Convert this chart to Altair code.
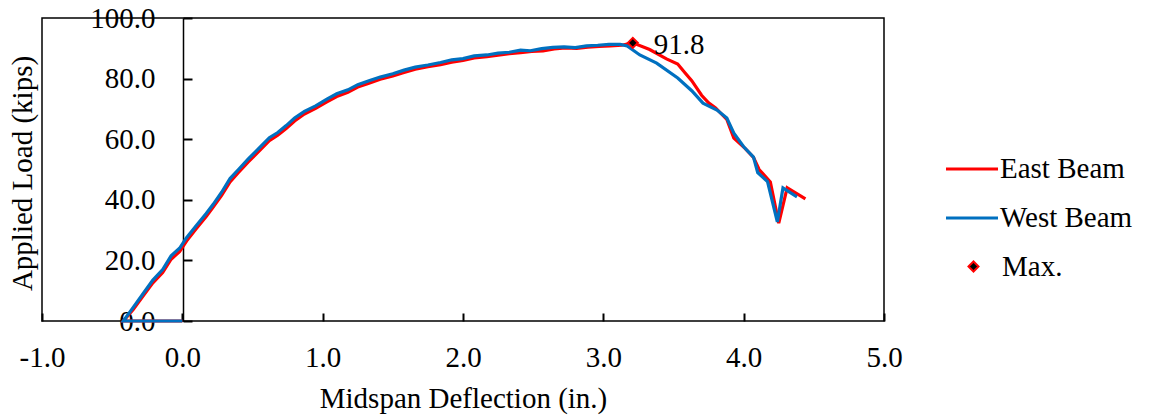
import altair as alt
import pandas as pd

# Load-deflection readings (in., kips)
east_x = [0.00, -0.42, -0.35, -0.28, -0.21, -0.14, -0.08, -0.02, 0.03, 0.10, 0.17, 0.22, 0.28,
          0.34, 0.40, 0.47, 0.55, 0.62, 0.68, 0.74, 0.80, 0.87, 0.95, 1.03, 1.10, 1.18, 1.25,
          1.33, 1.41, 1.50, 1.58, 1.66, 1.75, 1.84, 1.92, 2.00, 2.08, 2.17, 2.25, 2.33, 2.41,
          2.49, 2.57, 2.65, 2.73, 2.81, 2.89, 2.97, 3.05, 3.13, 3.21, 3.33, 3.45, 3.53, 3.58,
          3.63, 3.70, 3.75, 3.80, 3.88, 3.93, 4.01, 4.07, 4.11, 4.19, 4.25, 4.31, 4.44]
east_y = [0.0, 0.0, 3.8, 8.2, 12.6, 16.0, 20.4, 22.9, 26.4, 30.5, 34.5, 37.6, 41.5,
          45.9, 49.0, 52.5, 56.2, 59.5, 61.3, 63.5, 66.0, 68.3, 70.2, 72.3, 74.1, 75.5, 77.2,
          78.5, 79.8, 80.9, 82.0, 83.1, 83.9, 84.6, 85.4, 86.0, 86.8, 87.2, 87.7, 88.2, 88.6,
          89.0, 89.1, 89.8, 90.1, 90.0, 90.4, 90.6, 90.8, 91.0, 91.8, 89.6, 86.5, 84.8, 82.0,
          79.3, 74.5, 72.0, 70.3, 66.5, 60.4, 57.0, 54.0, 50.0, 45.9, 32.3, 44.0, 40.3]

west_x = [0.00, -0.42, -0.35, -0.28, -0.21, -0.14, -0.08, -0.02, 0.03, 0.10, 0.17, 0.22, 0.28,
          0.34, 0.40, 0.47, 0.55, 0.62, 0.68, 0.74, 0.80, 0.87, 0.95, 1.03, 1.10, 1.18, 1.25,
          1.33, 1.41, 1.50, 1.58, 1.66, 1.75, 1.84, 1.92, 2.00, 2.08, 2.17, 2.25, 2.33, 2.41,
          2.48, 2.56, 2.64, 2.72, 2.80, 2.88, 2.96, 3.04, 3.12, 3.17, 3.26, 3.38, 3.53, 3.63,
          3.71, 3.81, 3.88, 3.93, 4.00, 4.07, 4.10, 4.17, 4.24, 4.28, 4.38]
west_y = [0.0, 0.0, 4.5, 9.0, 13.5, 17.0, 21.5, 24.0, 27.5, 31.5, 35.5, 38.5, 42.5,
          47.0, 50.0, 53.5, 57.2, 60.5, 62.2, 64.5, 67.0, 69.2, 71.0, 73.2, 75.0, 76.3, 78.0,
          79.3, 80.5, 81.6, 82.8, 83.8, 84.5, 85.3, 86.2, 86.6, 87.5, 87.8, 88.4, 88.7, 89.4,
          89.2, 89.9, 90.3, 90.5, 90.2, 90.8, 91.0, 91.3, 91.3, 90.8, 87.8, 85.1, 80.2, 76.0,
          71.9, 69.6, 67.0, 62.0, 57.5, 54.1, 49.0, 46.0, 32.7, 43.9, 41.0]

# Peak load of the east beam
max_x = [3.21]
max_y = [91.8]

x_ticks = [-1, 0, 1, 2, 3, 4, 5]
y_ticks = [0, 20, 40, 60, 80, 100]

FONT = "Liberation Serif"
FS = 29
RED = "#FF0000"
BLUE = "#0070C0"

east = pd.DataFrame({"d": east_x, "p": east_y, "beam": "East Beam", "i": range(len(east_x))})
west = pd.DataFrame({"d": west_x, "p": west_y, "beam": "West Beam", "i": range(len(west_x))})
peak = pd.DataFrame({"d": max_x, "p": max_y, "kind": "Max."})

x_scale = alt.Scale(domain=[-1, 5], nice=False, zero=False)
y_scale = alt.Scale(domain=[0, 100], nice=False, zero=False)
color_scale = alt.Scale(domain=["East Beam", "West Beam"], range=[RED, BLUE])

# plain hyphen for negative tick labels
label_expr = "replace(format(datum.value, '.1f'), '\u2212', '-')"

# Deflection axis: a top axis moved down onto the bottom edge, so its ticks point up
# into the plot while the labels are pulled back below the frame.
x_axis = alt.Axis(
    orient="top", offset=-303,
    title="Midspan Deflection (in.)", values=x_ticks, labelExpr=label_expr,
    domain=False, ticks=True, tickSize=8, tickWidth=2, tickColor="black", tickOpacity=1,
    grid=False,
    labelPadding=-30, labelBaseline="top", labelFlush=False, labelOverlap=False,
    titleX=421, titleY=63, titleAlign="center", titleBaseline="top", titleAngle=0,
)
# Load axis: a right axis moved onto x = 0, ticks pointing right, labels on its left
y_axis = alt.Axis(
    orient="right", offset=-701,
    title="Applied Load (kips)", values=y_ticks, format=".1f",
    domain=True, domainColor="black", domainWidth=1.5,
    ticks=True, tickSize=9, tickWidth=2, tickColor="black", tickOpacity=1, grid=False,
    labelPadding=-37, labelAlign="right", labelFlush=False, labelOverlap=False,
    titleX=-161, titleY=155, titleAngle=270, titleAlign="center", titleBaseline="middle",
)

legend_lines = alt.Legend(
    title=None, orient="none", legendX=902, legendY=123,
    symbolType="stroke", symbolSize=2704, symbolStrokeWidth=3.2,
    labelFont=FONT, labelFontSize=FS, labelColor="black", labelOffset=0,
    rowPadding=6, padding=0,
)
legend_max = alt.Legend(
    title=None, orient="none", legendX=917, legendY=234,
    symbolType="diamond", symbolSize=100, symbolStrokeWidth=2,
    labelFont=FONT, labelFontSize=FS, labelColor="black", labelOffset=14,
    padding=0,
)

east_line = alt.Chart(east).mark_line(strokeWidth=3.2).encode(
    x=alt.X("d:Q", scale=x_scale, axis=x_axis),
    y=alt.Y("p:Q", scale=y_scale, axis=y_axis),
    order="i:Q",
    color=alt.Color("beam:N", scale=color_scale, legend=legend_lines),
)
west_line = alt.Chart(west).mark_line(strokeWidth=3.2).encode(
    x=alt.X("d:Q", scale=x_scale, axis=x_axis),
    y=alt.Y("p:Q", scale=y_scale, axis=y_axis),
    order="i:Q",
    color=alt.Color("beam:N", scale=color_scale, legend=legend_lines),
)
peak_point = alt.Chart(peak).mark_point(
    filled=True, strokeWidth=2, size=100, opacity=1
).encode(
    x=alt.X("d:Q", scale=x_scale, axis=x_axis),
    y=alt.Y("p:Q", scale=y_scale, axis=y_axis),
    shape=alt.Shape("kind:N", scale=alt.Scale(domain=["Max."], range=["diamond"]),
                    legend=legend_max),
    fill=alt.Fill("kind:N", scale=alt.Scale(domain=["Max."], range=["black"]),
                  legend=legend_max),
    stroke=alt.Stroke("kind:N", scale=alt.Scale(domain=["Max."], range=[RED]),
                      legend=legend_max),
)
peak_label = alt.Chart(peak).mark_text(
    align="left", baseline="middle", dx=21, dy=2, font=FONT, fontSize=FS, color="black"
).encode(
    x=alt.X("d:Q", scale=x_scale, axis=x_axis),
    y=alt.Y("p:Q", scale=y_scale, axis=y_axis),
    text=alt.Text("p:Q", format=".1f"),
)

chart = alt.layer(
    east_line, west_line, peak_point, peak_label
).properties(
    width=842, height=303,
    autosize=alt.AutoSizeParams(type="none"),
    padding={"left": 42, "top": 18, "right": 270, "bottom": 98},
    background="white",
).configure_view(
    stroke="black", strokeWidth=1.5,
).configure_axis(
    labelFont=FONT, labelFontSize=FS, labelColor="black",
    titleFont=FONT, titleFontSize=FS, titleColor="black", titleFontWeight="normal",
).configure_legend(
    labelFont=FONT, labelFontSize=FS,
)

chart.save("out.html", embed_options={"renderer": "svg", "actions": False})
